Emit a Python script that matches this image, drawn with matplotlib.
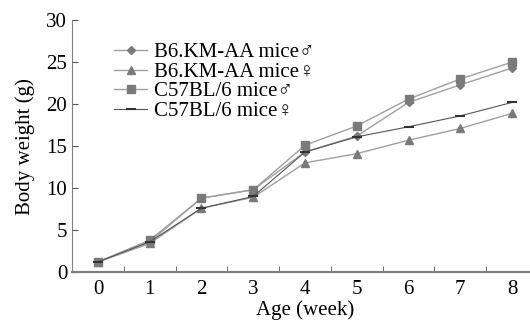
import matplotlib
matplotlib.use("Agg")
import matplotlib.pyplot as plt
from matplotlib.ticker import MultipleLocator

plt.rcParams['font.family'] = ['Liberation Serif', 'DejaVu Serif']

# weeks and body weights (g)
weeks = [0, 1, 2, 3, 4, 5, 6, 7, 8]
b6_male = [1.2, 3.6, 8.8, 9.8, 14.3, 16.2, 20.2, 22.3, 24.3]
b6_female = [1.2, 3.4, 7.6, 8.9, 13.0, 14.1, 15.7, 17.1, 18.9]
c57_male = [1.2, 3.8, 8.8, 9.8, 15.1, 17.4, 20.6, 23.0, 25.0]
c57_female = [1.2, 3.6, 7.6, 9.0, 14.3, 16.1, 17.3, 18.6, 20.2]
labels = ["B6.KM-AA mice\u2642", "B6.KM-AA mice\u2640",
          "C57BL/6 mice\u2642", "C57BL/6 mice\u2640"]

fig = plt.figure(figsize=(5.3, 3.25), dpi=100)
ax = fig.add_axes([0.136, 0.163, 0.879, 0.775])

line_c = '#a0a0a0'
mark_c = '#7a7a7a'
ax.plot(weeks, b6_male, color=line_c, lw=1.0, marker='D', ms=4, mfc=mark_c, mec=mark_c, label=labels[0])
ax.plot(weeks, b6_female, color=line_c, lw=1.0, marker='^', ms=5.5, mfc=mark_c, mec=mark_c, label=labels[1])
ax.plot(weeks, c57_male, color=line_c, lw=1.0, marker='s', ms=5.5, mfc=mark_c, mec=mark_c, label=labels[2])
ax.plot(weeks, c57_female, color='#555555', lw=0.8, marker='_', ms=7, mew=1.5, mfc='k', mec='#333333', label=labels[3])

ax.set_xlim(-0.5, 8.5)
ax.set_ylim(0, 30)
ax.yaxis.set_major_locator(MultipleLocator(5))
ax.set_xticks(weeks)
ax.set_xticks([w + 0.5 for w in weeks[:-1]], minor=True)
ax.tick_params(axis='x', which='major', length=0, labelsize=15, pad=6)
ax.tick_params(axis='x', which='minor', direction='in', length=4, color='#555555')
ax.tick_params(axis='y', direction='in', length=4, labelsize=15, color='#555555')

for s in ['top', 'right']:
    ax.spines[s].set_visible(False)
ax.spines['left'].set_color('#808080')
ax.spines['bottom'].set_color('#808080')
ax.spines['bottom'].set_linewidth(1.6)

ax.set_xlabel("Age (week)", fontsize=15, labelpad=1)
ax.set_ylabel("Body weight (g)", fontsize=15, labelpad=8)

ax.legend(loc='upper left', bbox_to_anchor=(0.05, 0.985), frameon=False, fontsize=15,
          handlelength=1.6, handletextpad=0.3, labelspacing=0.0)

fig.savefig("out.png", dpi=100)
